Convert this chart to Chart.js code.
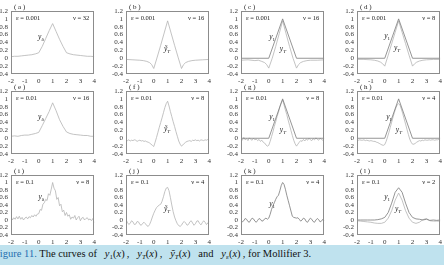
<!DOCTYPE html>
<html>
<head>
<meta charset="utf-8">
<script src="https://cdn.jsdelivr.net/npm/chart.js@4/dist/chart.umd.min.js"></script>
<style>
html,body{margin:0;padding:0;background:#fff;width:444px;height:265px;overflow:hidden;position:relative}
.panel{position:absolute}
#cap{position:absolute;left:0;top:245px;width:444px;height:20px;background:#bfe2ee;
  font:10.5px "Liberation Serif",serif;color:#111;white-space:nowrap;overflow:hidden}
#cap .in{position:absolute;left:-6px;top:3px}
#cap .fig{color:#1f6fb0}
#cap i{font-style:italic}
#cap sub{font-size:7px;vertical-align:-2px;line-height:0}
</style>
</head>
<body>
<div id="cap"><div class="in"><span class="fig">Figure 11.</span> The curves of &nbsp;&nbsp;<i>y</i><sub>1</sub>(<i>x</i>)&thinsp;, &nbsp;&nbsp;<i>y</i><sub><i>T</i></sub>(<i>x</i>)&thinsp;, &nbsp;&nbsp;<i>ỹ</i><sub><i>T</i></sub>(<i>x</i>)&nbsp;&nbsp; and &nbsp;&nbsp;<i>y</i><sub>ε</sub>(<i>x</i>)&thinsp;, for Mollifier 3.</div></div>

<script>
// axis ticks
const X_TICKS = [-2,-1,0,1,2,3,4];
const Y_TICKS = [-0.4,-0.2,0,0.2,0.4,0.6,0.8,1,1.2];

// exact solution y1 (hat function)
const X_TRUE = [-2,0,1,2,4];
const Y_TRUE = [0,0,1,0,0];

// coarse grid, step 0.25
const XC = [-2,-1.75,-1.5,-1.25,-1,-0.75,-0.5,-0.25,0,0.25,0.5,0.75,1,1.25,1.5,1.75,2,2.25,2.5,2.75,3,3.25,3.5,3.75,4];
// grid with a cusp at 0 and 2
const XB = [-2,-1.5,-1,-0.75,-0.5,-0.3,-0.15,0,0.25,0.5,0.75,1,1.25,1.5,1.75,2,2.15,2.3,2.5,2.75,3,3.5,4];
// fine grid, step 0.1
const XF = [-2,-1.9,-1.8,-1.7,-1.6,-1.5,-1.4,-1.3,-1.2,-1.1,-1,-0.9,-0.8,-0.7,-0.6,-0.5,-0.4,-0.3,-0.2,-0.1,
  0,0.1,0.2,0.3,0.4,0.5,0.6,0.7,0.8,0.9,1,1.1,1.2,1.3,1.4,1.5,1.6,1.7,1.8,1.9,
  2,2.1,2.2,2.3,2.4,2.5,2.6,2.7,2.8,2.9,3,3.1,3.2,3.3,3.4,3.5,3.6,3.7,3.8,3.9,4];

// (a) y_delta, eps=0.001
const Y_A = [0.04,0.05,0.05,0.06,0.07,0.08,0.09,0.11,0.14,0.3,0.5,0.7,0.88,0.68,0.48,0.3,0.14,0.11,0.09,0.08,0.07,0.06,0.05,0.05,0.04];
// (b) y~_T, nu=16
const Y_B = [-0.03,-0.04,-0.05,-0.06,-0.08,-0.11,-0.16,-0.26,0.03,0.33,0.64,0.95,0.64,0.33,0.03,-0.26,-0.16,-0.11,-0.08,-0.06,-0.05,-0.04,-0.03];
// (c) y_T, nu=16
const Y_C = [-0.05,-0.04,-0.06,-0.05,-0.08,-0.11,-0.16,-0.25,0.0,0.3,0.62,0.95,0.62,0.3,0.0,-0.25,-0.16,-0.11,-0.08,-0.06,-0.05,-0.05,-0.04];
// (d) y_T, nu=8
const Y_D = [-0.03,-0.03,-0.04,-0.05,-0.07,-0.1,-0.14,-0.2,0.08,0.37,0.66,0.95,0.66,0.37,0.08,-0.2,-0.14,-0.1,-0.07,-0.05,-0.04,-0.03,-0.03];
// (e) y_delta, eps=0.01
const Y_E = [0.05,0.06,0.05,0.07,0.08,0.08,0.1,0.12,0.15,0.32,0.5,0.68,0.9,0.7,0.47,0.3,0.16,0.12,0.1,0.09,0.08,0.07,0.07,0.05,0.05];
// (f) y~_T, nu=8, eps=0.01
const Y_F = [-0.03,-0.06,-0.04,-0.07,-0.05,-0.06,-0.04,-0.05,-0.08,-0.06,-0.05,-0.07,-0.06,-0.08,-0.07,-0.09,-0.1,-0.12,-0.15,-0.18,
  -0.21,-0.1,0.02,0.15,0.28,0.4,0.52,0.65,0.78,0.88,
  0.94,0.82,0.68,0.55,0.42,0.3,0.17,0.05,-0.07,-0.15,
  -0.2,-0.17,-0.13,-0.1,-0.08,-0.07,-0.06,-0.08,-0.05,-0.06,-0.04,-0.06,-0.05,-0.07,-0.04,-0.05,-0.06,-0.04,-0.05,-0.03,-0.05];
// (g) y_T, nu=8, eps=0.01
const Y_G = [0.0,-0.05,0.02,-0.04,-0.01,-0.06,0.01,-0.03,-0.05,0.0,-0.04,-0.02,-0.06,-0.03,-0.08,-0.05,-0.1,-0.12,-0.17,-0.2,
  -0.18,-0.08,0.04,0.16,0.3,0.42,0.55,0.66,0.8,0.9,
  0.97,0.85,0.72,0.6,0.46,0.33,0.2,0.07,-0.05,-0.14,
  -0.2,-0.15,-0.1,-0.06,-0.08,-0.03,-0.07,-0.02,-0.05,0.0,-0.04,-0.06,-0.01,-0.04,0.01,-0.03,-0.05,0.0,-0.03,-0.05,-0.02];
// (h) y_T, nu=4, eps=0.01
const Y_H = [-0.04,-0.05,-0.04,-0.05,-0.05,-0.04,-0.06,-0.05,-0.06,-0.07,-0.06,-0.07,-0.08,-0.08,-0.1,-0.11,-0.13,-0.15,-0.17,-0.18,
  -0.16,-0.08,0.03,0.15,0.28,0.41,0.54,0.66,0.77,0.85,
  0.88,0.84,0.74,0.62,0.49,0.36,0.23,0.1,-0.02,-0.1,
  -0.15,-0.15,-0.13,-0.1,-0.08,-0.06,-0.07,-0.05,-0.06,-0.04,-0.05,-0.05,-0.04,-0.05,-0.04,-0.04,-0.05,-0.04,-0.04,-0.03,-0.04];
// (i) y_delta, eps=0.1
const Y_I = [0.08,0.0,0.06,0.02,0.09,0.03,0.1,0.02,0.07,0.0,0.05,0.08,0.03,0.09,0.06,0.12,0.08,0.14,0.1,0.16,
  0.17,0.28,0.26,0.42,0.46,0.55,0.52,0.7,0.66,0.82,
  1.0,0.85,0.78,0.55,0.6,0.38,0.42,0.22,0.26,0.12,
  0.2,0.1,0.14,0.02,0.08,0.05,0.12,0.0,0.06,0.1,-0.02,0.05,0.07,0.0,0.04,0.06,0.0,0.03,-0.02,0.04,-0.08];
// (j) y~_T, nu=4, eps=0.1
const Y_J = [0.0,-0.06,-0.12,-0.09,-0.02,-0.05,-0.12,-0.11,-0.04,-0.05,-0.12,-0.14,-0.09,-0.06,-0.1,-0.15,-0.17,-0.12,-0.03,0.08,
  0.18,0.26,0.33,0.37,0.4,0.42,0.5,0.62,0.76,0.85,
  0.87,0.78,0.6,0.4,0.22,0.08,-0.02,-0.1,-0.15,-0.17,
  -0.14,-0.07,-0.04,-0.08,-0.14,-0.12,-0.05,-0.02,-0.08,-0.14,-0.1,-0.03,-0.02,-0.09,-0.13,-0.07,-0.02,-0.06,-0.12,-0.08,-0.03];
// (k) y_T, nu=4, eps=0.1
const Y_K = [0.0,-0.05,-0.02,0.04,0.02,-0.04,-0.06,0.0,0.05,0.03,-0.03,-0.06,-0.01,0.04,0.02,-0.03,-0.02,0.03,0.05,0.02,
  0.05,0.15,0.28,0.38,0.46,0.55,0.62,0.66,0.78,0.92,
  1.0,0.95,0.82,0.66,0.52,0.38,0.24,0.1,0.07,0.06,
  0.05,0.06,0.02,-0.03,0.0,0.05,0.03,-0.04,-0.06,0.0,0.05,0.02,-0.04,-0.06,0.0,0.04,0.01,-0.05,-0.03,0.02,-0.02];
// (l) nu=2, eps=0.1: smoothed y1 and y_T
const Y_L1 = [0.0,0.0,0.0,0.0,0.0,0.0,0.01,0.03,0.07,0.2,0.45,0.74,0.86,0.74,0.45,0.2,0.07,0.03,0.02,0.0,0.02,-0.01,0.0,-0.01,0.0];
const Y_LT = [-0.02,-0.03,-0.04,-0.05,-0.06,-0.08,-0.09,-0.09,-0.06,0.05,0.25,0.53,0.72,0.53,0.25,0.05,-0.06,-0.09,-0.06,0.01,0.04,-0.02,-0.03,-0.03,-0.03];

const DARK = '#7a7a7a';
const LIGHT = '#b4b4b4';

const COL_LEFT = [11,126,241,357];
const ROW_TOP = [11,91,175];
const ROW_H = [63,63,60];
const FRAME_W = 86;

const panels = [
  {tag:'a', col:0, row:0, eps:'0.001', nu:'32', curves:[[XC,Y_A,LIGHT]], labels:[['y','δ',-0.05,0.54]]},
  {tag:'b', col:1, row:0, eps:'0.001', nu:'16', curves:[[XB,Y_B,LIGHT]], labels:[['ỹ','T',0.73,0.23]]},
  {tag:'c', col:2, row:0, eps:'0.001', nu:'16', curves:[[X_TRUE,Y_TRUE,DARK],[XB,Y_C,LIGHT]], labels:[['y','1',0.03,0.53],['y','T',0.8,0.23]]},
  {tag:'d', col:3, row:0, eps:'0.001', nu:'8', curves:[[X_TRUE,Y_TRUE,DARK],[XB,Y_D,LIGHT]], labels:[['y','1',-0.04,0.56],['y','T',0.66,0.25]]},
  {tag:'e', col:0, row:1, eps:'0.01', nu:'16', curves:[[XC,Y_E,LIGHT]], labels:[['y','δ',-0.05,0.54]]},
  {tag:'f', col:1, row:1, eps:'0.01', nu:'8', curves:[[XF,Y_F,LIGHT]], labels:[['ỹ','T',0.73,0.24]]},
  {tag:'g', col:2, row:1, eps:'0.01', nu:'8', curves:[[X_TRUE,Y_TRUE,DARK],[XF,Y_G,LIGHT]], labels:[['y','1',0.03,0.54],['y','T',0.8,0.21]]},
  {tag:'h', col:3, row:1, eps:'0.01', nu:'4', curves:[[X_TRUE,Y_TRUE,DARK],[XF,Y_H,LIGHT]], labels:[['y','1',0.1,0.54],['y','T',0.8,0.21]]},
  {tag:'i', col:0, row:2, eps:'0.1', nu:'8', curves:[[XF,Y_I,LIGHT]], labels:[['y','δ',-0.02,0.6]]},
  {tag:'j', col:1, row:2, eps:'0.1', nu:'4', curves:[[XF,Y_J,LIGHT]], labels:[['ỹ','T',0.73,0.29]]},
  {tag:'k', col:2, row:2, eps:'0.1', nu:'4', curves:[[XF,Y_K,DARK]], labels:[['y','1',0.03,0.43]]},
  {tag:'l', col:3, row:2, eps:'0.1', nu:'2', curves:[[XC,Y_L1,DARK],[XC,Y_LT,LIGHT]], labels:[['y','1',-0.04,0.6],['y','T',0.73,0.29]]}
];

const SERIF = '"Liberation Serif", "DejaVu Serif", serif';
const Y_AXIS_W = 16, X_AXIS_H = 10, PAD_TOP = 10, PAD_RIGHT = 2;

// frame, panel tag, eps/nu text and curve labels
const decorPlugin = {
  id:'decor',
  afterDraw(chart){
    const p = chart.options.plugins.decor.panel;
    const a = chart.chartArea, ctx = chart.ctx;
    const xs = chart.scales.x, ys = chart.scales.y;
    ctx.save();
    ctx.strokeStyle = '#8c8c8c';
    ctx.lineWidth = 1;
    ctx.strokeRect(Math.round(a.left)+0.5, Math.round(a.top)+0.5, Math.round(a.right-a.left)-1, Math.round(a.bottom-a.top)-1);
    ctx.fillStyle = '#222';
    ctx.font = '7px ' + SERIF;
    ctx.textBaseline = 'alphabetic';
    ctx.textAlign = 'left';
    ctx.fillText('( ' + p.tag + ' )', a.left + 3, a.top - 2);
    ctx.font = '6.5px ' + SERIF;
    ctx.textBaseline = 'middle';
    ctx.fillText('ε = ' + p.eps, a.left + 5, a.top + 7);
    ctx.textAlign = 'right';
    ctx.fillText('ν = ' + p.nu, a.right - 5, a.top + 7);
    ctx.textAlign = 'left';
    p.labels.forEach(([base, sub, lx, ly]) => {
      const px = xs.getPixelForValue(lx), py = ys.getPixelForValue(ly);
      ctx.font = 'italic 7.5px ' + SERIF;
      ctx.fillText(base, px, py);
      const w = ctx.measureText(base).width;
      ctx.font = (sub === 'T' ? 'italic ' : '') + '5px ' + SERIF;
      ctx.fillText(sub, px + w, py + 2.5);
    });
    ctx.restore();
  }
};

panels.forEach(p => {
  const frameL = COL_LEFT[p.col], frameT = ROW_TOP[p.row], frameH = ROW_H[p.row];
  const w = Y_AXIS_W + FRAME_W + PAD_RIGHT;
  const h = PAD_TOP + frameH + X_AXIS_H;
  const div = document.createElement('div');
  div.className = 'panel';
  div.style.left = (frameL - Y_AXIS_W) + 'px';
  div.style.top = (frameT - PAD_TOP) + 'px';
  div.style.width = w + 'px';
  div.style.height = h + 'px';
  const cv = document.createElement('canvas');
  cv.width = w; cv.height = h;
  cv.style.width = w + 'px'; cv.style.height = h + 'px';
  div.appendChild(cv);
  document.body.appendChild(div);

  new Chart(cv.getContext('2d'), {
    type:'line',
    data:{
      datasets: p.curves.map(([xs, ys, color]) => ({
        data: xs.map((x,i) => ({x:x, y:ys[i]})),
        borderColor: color,
        borderWidth: 0.8,
        pointRadius: 0,
        tension: 0,
        fill: false
      }))
    },
    options:{
      responsive:false,
      animation:false,
      devicePixelRatio:1,
      layout:{padding:{top:PAD_TOP, right:PAD_RIGHT, left:0, bottom:0}},
      plugins:{legend:{display:false}, tooltip:{enabled:false}, decor:{panel:p}},
      scales:{
        x:{
          type:'linear', min:-2, max:4,
          grid:{display:false, drawTicks:false}, border:{display:false},
          afterBuildTicks: s => { s.ticks = X_TICKS.map(v => ({value:v})); },
          afterFit: s => { s.height = X_AXIS_H; },
          ticks:{font:{size:7, family:SERIF}, color:'#333', padding:3, maxRotation:0, autoSkip:false,
            callback: v => String(v)}
        },
        y:{
          type:'linear', min:-0.4, max:1.2,
          grid:{display:false, drawTicks:false}, border:{display:false},
          afterBuildTicks: s => { s.ticks = Y_TICKS.map(v => ({value:v})); },
          afterFit: s => { s.width = Y_AXIS_W; },
          ticks:{font:{size:7, family:SERIF}, color:'#333', padding:3, autoSkip:false,
            callback: v => String(+v.toFixed(1))}
        }
      }
    },
    plugins:[decorPlugin]
  });
});
</script>
</body>
</html>
